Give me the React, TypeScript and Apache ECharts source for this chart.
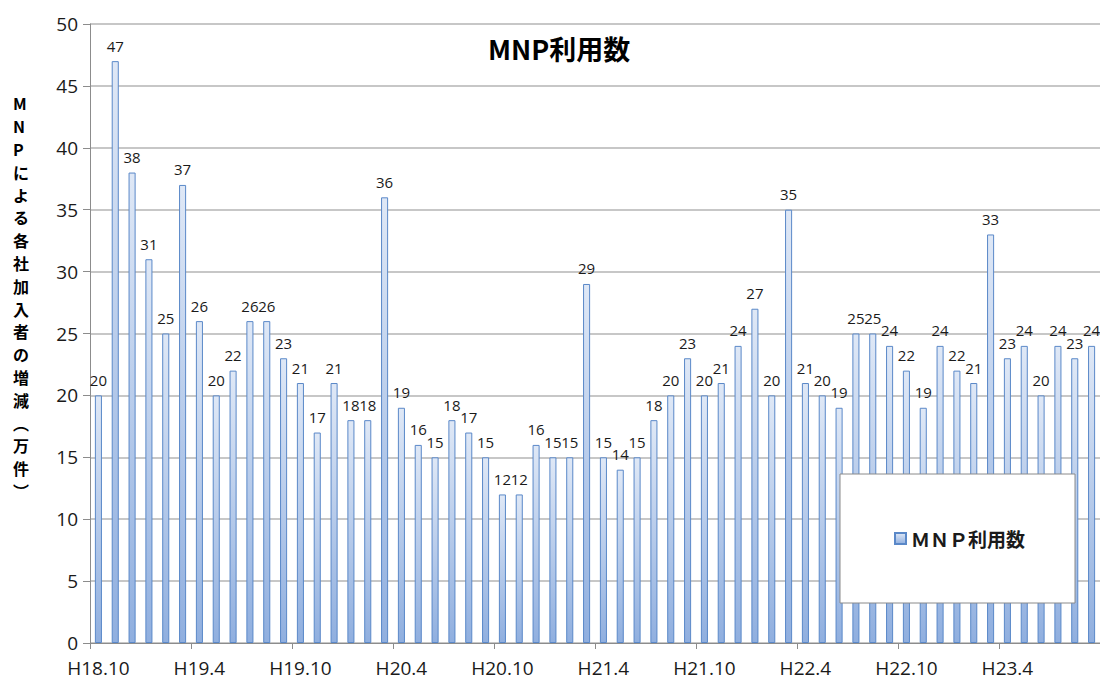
import React, { useEffect, useRef } from "react";
import * as echarts from "echarts";

const categories = [
  "H18.10","H18.11","H18.12","H19.1","H19.2","H19.3","H19.4","H19.5","H19.6","H19.7","H19.8","H19.9",
  "H19.10","H19.11","H19.12","H20.1","H20.2","H20.3","H20.4","H20.5","H20.6","H20.7","H20.8","H20.9",
  "H20.10","H20.11","H20.12","H21.1","H21.2","H21.3","H21.4","H21.5","H21.6","H21.7","H21.8","H21.9",
  "H21.10","H21.11","H21.12","H22.1","H22.2","H22.3","H22.4","H22.5","H22.6","H22.7","H22.8","H22.9",
  "H22.10","H22.11","H22.12","H23.1","H23.2","H23.3","H23.4","H23.5","H23.6","H23.7","H23.8","H23.9",
];

const mnpValues = [
  20, 47, 38, 31, 25, 37, 26, 20, 22, 26, 26, 23,
  21, 17, 21, 18, 18, 36, 19, 16, 15, 18, 17, 15,
  12, 12, 16, 15, 15, 29, 15, 14, 15, 18, 20, 23,
  20, 21, 24, 27, 20, 35, 21, 20, 19, 25, 25, 24,
  22, 19, 24, 22, 21, 33, 23, 24, 20, 24, 23, 24,
];

// tick labels shown on the x axis (every 6th month)
const xTickLabels = ["H18.10","H19.4","H19.10","H20.4","H20.10","H21.4","H21.10","H22.4","H22.10","H23.4"];

const seriesName = "ＭＮＰ利用数";
const chartTitle = "MNP利用数";
const yTitleChars = ["M","N","P","に","よ","る","各","社","加","入","者","の","増","減","︵","万","件","︶"];

export default function App() {
  const ref = useRef<HTMLDivElement>(null);
  useEffect(() => {
    if (!ref.current) return;
    const chart = echarts.init(ref.current, null, { renderer: "svg" });
    const latinFont = "'Open Sans', 'Noto Sans', sans-serif";
    const cjkFont = "'Noto Sans CJK JP', sans-serif";
    chart.setOption({
      animation: false,
      backgroundColor: "#ffffff",
      grid: { left: 90, right: 0, top: 24, bottom: 36, containLabel: false },
      xAxis: {
        type: "category",
        data: categories,
        boundaryGap: true,
        axisLine: { show: true, lineStyle: { color: "#8c8c8c", width: 1 } },
        axisTick: {
          show: true,
          alignWithLabel: false,
          interval: 5,
          length: 6,
          lineStyle: { color: "#8c8c8c" },
        },
        splitLine: { show: false },
        axisLabel: {
          show: true,
          interval: 5,
          margin: 15,
          fontSize: 19,
          color: "#1a1a1a",
          fontFamily: latinFont,
          formatter: (v: string) => (xTickLabels.includes(v) ? v : ""),
        },
      },
      yAxis: {
        type: "value",
        min: 0,
        max: 50,
        interval: 5,
        axisLine: { show: true, lineStyle: { color: "#8c8c8c" } },
        axisTick: { show: true, length: 7, lineStyle: { color: "#8c8c8c" } },
        splitLine: { show: true, lineStyle: { color: "#b4b4b4", width: 1.5 } },
        axisLabel: {
          fontSize: 19,
          color: "#1a1a1a",
          margin: 12,
          fontFamily: latinFont,
        },
      },
      legend: {
        show: true,
        left: 840,
        top: 474,
        width: 232,
        orient: "horizontal",
        backgroundColor: "#ffffff",
        borderColor: "#8a8a8a",
        borderWidth: 1,
        padding: [55, 50, 55, 54],
        itemWidth: 11,
        itemHeight: 11,
        itemGap: 4,
        icon: "rect",
        data: [seriesName],
        textStyle: {
          fontSize: 19,
          fontWeight: "bold",
          color: "#1a1a1a",
          fontFamily: cjkFont,
        },
        z: 10,
      },
      graphic: [
        {
          type: "text",
          left: 488,
          top: 35,
          style: {
            text: chartTitle,
            fontSize: 27,
            fontWeight: "bold",
            fill: "#000000",
            fontFamily: cjkFont,
          },
        },
        {
          type: "text",
          left: 13,
          top: 92,
          style: {
            text: yTitleChars.join("\n"),
            fontSize: 16,
            fontWeight: "bold",
            lineHeight: 22.8,
            align: "center",
            fill: "#000",
            fontFamily: cjkFont,
          },
        },
      ],
      series: [
        {
          name: seriesName,
          type: "bar",
          data: mnpValues,
          barWidth: "42%",
          itemStyle: {
            color: new echarts.graphic.LinearGradient(0, 0, 0, 1, [
              { offset: 0, color: "#dfe8f6" },
              { offset: 1, color: "#90afdf" },
            ]),
            borderColor: "#5a88c8",
            borderWidth: 1,
          },
          label: {
            show: true,
            position: "top",
            distance: 8,
            fontSize: 15,
            color: "#1a1a1a",
            fontFamily: latinFont,
          },
        },
      ],
    });
    return () => chart.dispose();
  }, []);
  return (
    <div
      ref={ref}
      style={{ position: "fixed", left: 0, top: 0, width: 1100, height: 679 }}
    />
  );
}
